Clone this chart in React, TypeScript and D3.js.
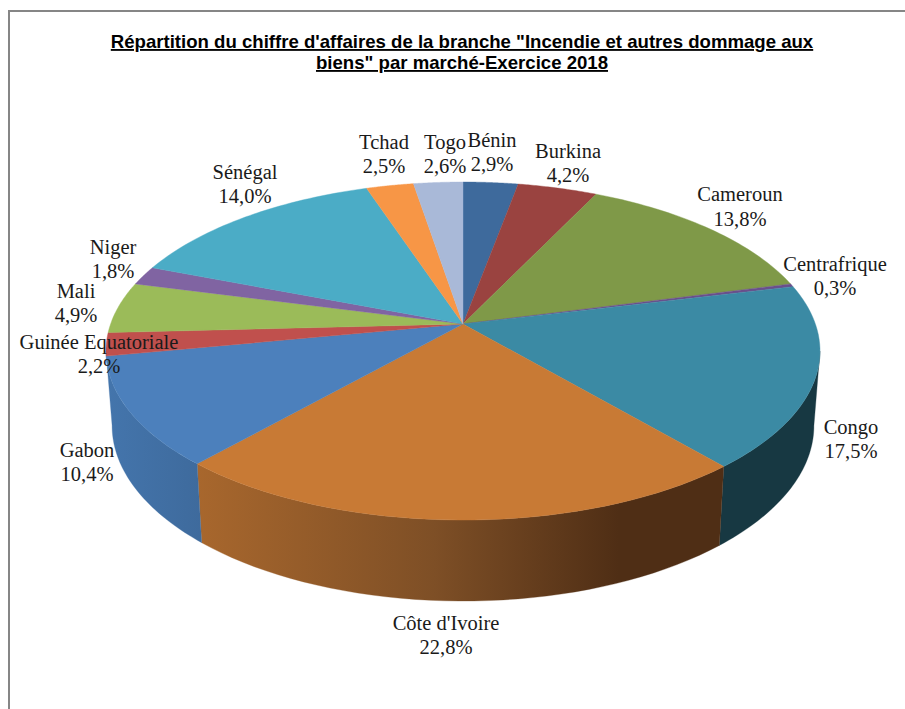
import React from "react";
import * as d3 from "d3";

const categories = ["Bénin", "Burkina", "Cameroun", "Centrafrique", "Congo", "Côte d'Ivoire", "Gabon", "Guinée Equatoriale", "Mali", "Niger", "Sénégal", "Tchad", "Togo"];
const shares = [2.9, 4.2, 13.8, 0.3, 17.5, 22.8, 10.4, 2.2, 4.9, 1.8, 14.0, 2.5, 2.6];
const topColors = ["#3E6A9C", "#9A4340", "#7F9948", "#6A4F8C", "#3B8AA4", "#C87A35", "#4C80BC", "#C0504D", "#9BBB59", "#8064A2", "#4BACC6", "#F79646", "#A9B9D8"];
const wallFills: Record<string, string> = { Congo: "#173842", "Côte d'Ivoire": "url(#wallCI)", Gabon: "url(#wallGabon)" };
const labelPos: [number, number, number][] = [
  [492, 147, 171], [568, 158, 182], [740, 201, 226], [835, 271, 295], [851, 434, 458], [446, 630, 654],
  [87, 457, 481], [99, 349, 373], [76, 298, 322], [113, 254, 278], [245, 179, 203], [384, 149, 173], [445, 149, 173],
];
const titleLines = ["Répartition du chiffre d'affaires de la branche \"Incendie et autres dommage aux", "biens\" par marché-Exercice 2018"];

const CX = 463, CY = 324, K = -0.16;
const topP = (t: number): [number, number] => {
  const u = Math.sin(t), v = -Math.cos(t), d = 1 + K * v;
  return [CX + (352.4 * u) / d, CY + (164.7 * v) / d];
};
const botP = (t: number): [number, number] => {
  const u = Math.sin(t), v = -Math.cos(t), d = 1 + K * v;
  return [CX + (346.4 * u) / d, 397.5 + (171 * v) / d];
};
const line = d3.line();
const samples = (a: number, b: number) => d3.range(0, 41).map((i) => a + ((b - a) * i) / 40);
const fmt = (v: number) => v.toFixed(1).replace(".", ",") + "%";
// Angles where the disc outline reaches its widest point: the wall's outer edge runs between them.
const EXT_R = Math.acos(K);
const EXT_L = 2 * Math.PI - EXT_R;

export default function App() {
  const arcs = d3.pie<number>().sort(null).startAngle(0).endAngle(2 * Math.PI)(shares);
  return (
    <svg width={905} height={709} style={{ position: "absolute", left: 0, top: 0, background: "#fff" }}>
      <defs>
        <linearGradient id="wallCI" gradientUnits="userSpaceOnUse" x1={197} x2={724} y1={0} y2={0}>
          <stop offset="0" stopColor="#A8672D" />
          <stop offset="0.45" stopColor="#7E4F26" />
          <stop offset="0.8" stopColor="#4F2E15" />
          <stop offset="1" stopColor="#4F2E15" />
        </linearGradient>
        <linearGradient id="wallGabon" gradientUnits="userSpaceOnUse" x1={106} x2={205} y1={0} y2={0}>
          <stop offset="0" stopColor="#4475AC" />
          <stop offset="1" stopColor="#3E6A9C" />
        </linearGradient>
      </defs>
      <path d="M9 709V11H905" fill="none" stroke="#868686" strokeWidth={2} />
      {arcs.map((a, i) => {
        const name = categories[i];
        const fill = wallFills[name];
        if (!fill) return null;
        const s = name === "Congo" ? EXT_R : a.startAngle;
        const e = name === "Gabon" ? EXT_L : a.endAngle;
        const ts = samples(s, e);
        const pts = [...ts.map(topP), ...ts.slice().reverse().map(botP)];
        return <path key={i} d={line(pts) + "Z"} fill={fill} stroke={fill} strokeWidth={0.3} />;
      })}
      {arcs.map((a, i) => {
        const pts: [number, number][] = [[CX, CY], ...samples(a.startAngle, a.endAngle).map(topP)];
        return <path key={i} d={line(pts) + "Z"} fill={topColors[i]} stroke={topColors[i]} strokeWidth={0.4} />;
      })}
      <g fontFamily="'Liberation Sans', Arial, sans-serif" fontWeight={700} fontSize={18.6} fill="#000" textAnchor="middle" textDecoration="underline">
        {titleLines.map((t, i) => (
          <text key={i} x={462} y={48 + i * 21}>{t}</text>
        ))}
      </g>
      <g fontFamily="'Liberation Serif', serif" fontSize={20.5} fill="#1a1a1a" textAnchor="middle">
        {categories.map((c, i) => (
          <g key={c}>
            <text x={labelPos[i][0]} y={labelPos[i][1]}>{c}</text>
            <text x={labelPos[i][0]} y={labelPos[i][2]}>{fmt(shares[i])}</text>
          </g>
        ))}
      </g>
    </svg>
  );
}
